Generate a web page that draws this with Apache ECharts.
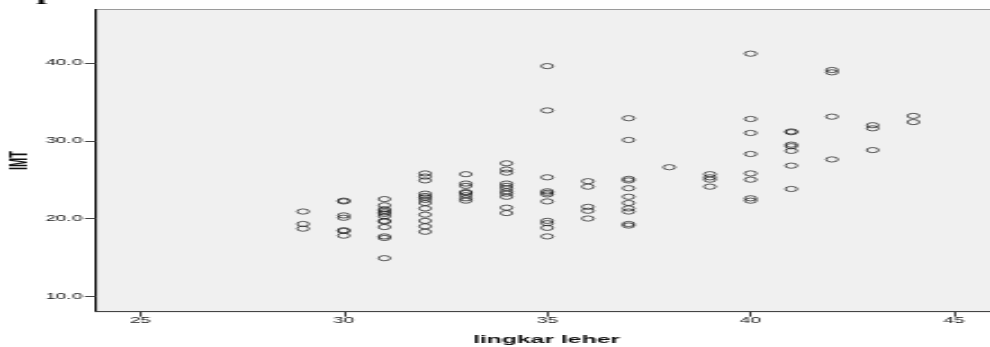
<!DOCTYPE html>
<html><head><meta charset="utf-8">
<script src="https://cdn.jsdelivr.net/npm/echarts@6/dist/echarts.min.js"></script>
<style>
html,body{margin:0;padding:0;background:#fff;overflow:hidden;width:990px;height:347px}
#chart{width:440px;height:347px;transform:scaleX(2.25);transform-origin:0 0}
</style></head>
<body><div id="chart"></div>
<script>
// tick labels
const xTicks = [25, 30, 35, 40, 45];
const yTicks = [10, 20, 30, 40];
// x categories (lingkar leher) and IMT values per neck circumference
const neck = [29, 30, 31, 32, 33, 34, 35, 36, 37, 38, 39, 40, 41, 42, 43, 44];
const imt29 = [20.9, 19.3, 18.7];
const imt30 = [22.2, 22.3, 20.4, 20.1, 18.5, 18.4, 17.8];
const imt31 = [22.5, 21.7, 21.2, 21.0, 20.8, 20.6, 20.3, 19.7, 19.6, 18.9, 17.7, 17.5, 14.9];
const imt32 = [25.8, 25.4, 24.9, 23.2, 22.9, 22.7, 22.4, 22.0, 21.3, 20.5, 19.7, 19.0, 18.3];
const imt33 = [25.7, 24.5, 24.2, 23.4, 23.3, 23.0, 22.6, 22.3];
const imt34 = [27.1, 26.3, 25.9, 24.5, 24.2, 23.9, 23.5, 23.2, 22.8, 21.4, 20.7];
const imt35 = [39.6, 33.9, 25.3, 23.5, 23.3, 23.1, 22.2, 19.7, 19.4, 18.8, 17.7];
const imt36 = [24.8, 24.1, 21.5, 21.0, 20.0];
const imt37 = [32.9, 30.1, 25.1, 24.9, 23.9, 22.8, 22.0, 21.3, 20.9, 19.3, 19.1];
const imt38 = [26.6];
const imt39 = [25.7, 25.3, 25.0, 24.1];
const imt40 = [41.2, 32.8, 31.0, 28.3, 25.8, 25.0, 22.6, 22.3];
const imt41 = [31.2, 31.1, 29.5, 29.3, 28.7, 26.8, 23.8];
const imt42 = [39.1, 38.8, 33.1, 27.6];
const imt43 = [32.0, 31.6, 28.8];
const imt44 = [33.2, 32.4];
const imtCols = [imt29, imt30, imt31, imt32, imt33, imt34, imt35, imt36, imt37, imt38, imt39, imt40, imt41, imt42, imt43, imt44];

const points = [];
neck.forEach((x, i) => imtCols[i].forEach(v => points.push([x, v])));

const chart = echarts.init(document.getElementById('chart'), null, {renderer: 'canvas'});
const font = '"Liberation Sans", Arial, sans-serif';
chart.setOption({
  animation: false,
  backgroundColor: '#ffffff',
  grid: {
    left: 42.67, right: -3, top: 9.5, bottom: 35.3,
    outerBoundsMode: 'none', containLabel: false,
    show: true, backgroundColor: '#f0f0f0', borderColor: '#9a9a9a', borderWidth: 1
  },
  xAxis: {
    type: 'value', min: 23.911, max: 46.05,
    name: 'lingkar leher', nameLocation: 'middle', nameGap: 22.5,
    nameTextStyle: {fontFamily: font, fontWeight: 'bold', fontSize: 11, color: '#111'},
    splitLine: {show: false},
    axisLine: {show: true, onZero: false, lineStyle: {color: '#444', width: 1.2}},
    axisTick: {show: true, length: 5, customValues: xTicks, lineStyle: {color: '#444', width: 1}},
    axisLabel: {customValues: xTicks, margin: 4, fontFamily: font, fontSize: 8.5, color: '#1a1a1a'}
  },
  yAxis: {
    type: 'value', min: 8.02, max: 46.88,
    name: 'IMT', nameLocation: 'middle', nameGap: 28, nameRotate: 90, nameMoveOverlap: false,
    nameTextStyle: {fontFamily: font, fontWeight: 'bold', fontSize: 11, color: '#111'},
    splitLine: {show: false},
    axisLine: {show: true, onZero: false, lineStyle: {color: '#111', width: 1}},
    axisTick: {show: true, length: 5, customValues: yTicks, lineStyle: {color: '#444', width: 1}},
    axisLabel: {customValues: yTicks, margin: 6, fontFamily: font, fontSize: 8.5, color: '#1a1a1a',
      formatter: v => v.toFixed(1)}
  },
  series: [{
    type: 'scatter',
    data: points,
    symbol: 'circle',
    symbolSize: 5.2,
    itemStyle: {color: 'rgba(0,0,0,0)', borderColor: 'rgba(20,20,20,0.85)', borderWidth: 1}
  }],
  graphic: [{
    type: 'text', left: 16.2, top: -12,
    style: {text: 'p', font: 'bold 16px "Liberation Serif", serif', fill: '#000'}
  }]
});
</script></body></html>
